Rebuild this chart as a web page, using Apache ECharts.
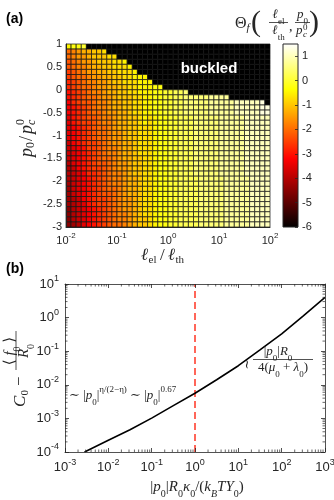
<!DOCTYPE html>
<html>
<head>
<meta charset="utf-8">
<script src="https://cdn.jsdelivr.net/npm/echarts@6.0.0/dist/echarts.min.js"></script>
<style>
  html, body { margin: 0; padding: 0; background: #fff; }
  #chart { width: 334px; height: 500px; }
</style>
</head>
<body>
<div id="chart"></div>
<script>
// ---- panel (a): Theta_f(l_el/l_th, p0/pc0) ----
// one string per row of cells, top row first (p0/pc0 = 1), bottom row last (p0/pc0 = -3)
// one character per cell, small l_el/l_th first: theta = -6 + 0.25 * parseInt(ch, 36)
// cells missing at the end of a row lie in the buckled region
const thetaRows = [
  'mnno',
  'ghijjkkl',
  'ghiijkkkll',
  'fghiijkkkllm',
  'fghhijjkklllm',
  'efghiijjkklllm',
  'efgghiijjkkllmmm',
  'defghhiijkklllmmm',
  'defgghiijjkkllmmmnn',
  'cdefghhijjkkllmmmnnooppq',
  'cdefgghiijkkkllmmnnooppqqqqqrrrr',
  'bdeffghhijjkkllmmnnooppqqqqqrrrrrssssst',
  'bcdefghhijjkkllmmnnooppqqqqqrrrrrssssstt',
  'bcdefgghiijjkllmmnnooppqqqqqrrrrrssssstt',
  'acdeffghhijjkklmlmnnoopppqqqqqrrrrrsssss',
  'acdeefghhijjkklmlmnnoopppqqqqqrrrrrsssss',
  'abcdefgghijjkklllmnnoopppqqqqqrrrrrsssss',
  'abcdefgghiijkklllmnnoopppqqqqqrrrrrsssss',
  'abcdefgghiijkklllmnnoopppqqqqqrrrrrsssss',
  '9bcdeefghiijjklllmnnoopppqqqqqrrrrrsssss',
  '9abceefghhijjklllmnnoopppqqqqqrrrrrsssss',
  '9abcdefghhijjklllmnnoopppqqqqqrrrrrsssss',
  '9abcdefgghijjkkllmnnoopppqqqqqrrrrrsssss',
  '8abcdeffghiijkkllmnnoopppqqqqqrrrrrsssss',
  '89bcdeefghiijkkllmnnoopppqqqqqrrrrrsssss',
  '89abddefghhijkkllmnnoopppqqqqqrrrrrsssss',
  '89abcdefghhijjkllmnnooppppqqqqqrrrrrssss',
  '79abcdefghhijjkllmnnooppppqqqqqrrrrrssss',
  '79abcdefgghijjkllmnnooppppqqqqqrrrrrssss',
  '79abcdeffghijjkllmnnooppppqqqqqrrrrrssss',
  '789bcdeefghiijkllmnnooppppqqqqqrrrrrssss',
  '789acdeefghiijkllmnnooppppqqqqqrrrrrssss',
  '689abcdefghiijkllmnnooppppqqqqqrrrrrssss',
  '689abcdefghhijkllmnnooppppqqqqqrrrrrssss',
  '689abcdefghhijkklmnnooppppqqqqqrrrrrssss',
  '678abcdefgghijkklmnnooppppqqqqqrrrrrssss'
];
const nCols = 40;
const xDecades = [-2, 2];      // l_el/l_th from 10^-2 to 10^2
const yRange = [-3, 1];        // p0/pc0
const thetaRange = [-6, 1.5];  // colour bar
const hotColors = ['#000000', '#550000', '#aa0000', '#ff0000', '#ff5500',
                   '#ffaa00', '#ffff00', '#ffff80', '#ffffff'];

// ---- panel (b): C0 - <f0>/R0 against |p0| R0 kappa0 / (kB T Y0) ----
const loadX = [0.00282, 0.01, 0.0316, 0.1, 0.316, 1, 3.16, 10, 31.6, 100, 316, 1000];
const gapY = [1.0e-4, 2.24e-4, 4.57e-4, 1.02e-3, 2.4e-3, 5.6e-3, 1.41e-2, 3.7e-2, 0.11, 0.33, 1.12, 3.98];
const crossoverX = 1;
const bXRange = [1e-3, 1e3];
const bYRange = [1e-4, 1e1];

const ink = '#262626';
const serif = "'Liberation Serif', 'DejaVu Serif', serif";
const sans = "'Liberation Sans', Arial, sans-serif";

// cells [x0, x1, y0, y1, theta]
const nRows = thetaRows.length;
const dx = (xDecades[1] - xDecades[0]) / nCols;
const dy = (yRange[1] - yRange[0]) / nRows;
const cells = [];
thetaRows.forEach(function (row, r) {
  const yTop = yRange[1] - r * dy;
  for (let c = 0; c < nCols; c++) {
    const ch = row.charAt(c);
    const theta = ch ? -6 + 0.25 * parseInt(ch, 36) : thetaRange[0];
    cells.push([Math.pow(10, xDecades[0] + c * dx), Math.pow(10, xDecades[0] + (c + 1) * dx),
                yTop - dy, yTop, theta]);
  }
});

// minor ticks of the log axes in (b)
const minorX = [], minorY = [];
for (let k = -3; k < 3; k++) for (let m = 2; m < 10; m++) minorX.push([m * Math.pow(10, k), bYRange[0]]);
for (let k = -4; k < 1; k++) for (let m = 2; m < 10; m++) minorY.push([bXRange[0], m * Math.pow(10, k)]);

function expLabel(v) {
  return '{b|10}{e|' + Math.round(Math.log10(v)) + '}';
}
function expRich(size, sup) {
  return {
    b: { fontSize: size, lineHeight: size + 6, color: ink, fontFamily: sans },
    e: { fontSize: sup, lineHeight: sup + 1, verticalAlign: 'top', color: ink, fontFamily: sans }
  };
}

function t(x, y, text, size, extra) {
  return { type: 'text', x: x, y: y, z: 100,
    style: Object.assign({ text: text, fontSize: size, fontFamily: serif, fill: ink,
      align: 'left', verticalAlign: 'middle' }, extra || {}) };
}
function bar(x1, x2, y) {
  return { type: 'line', z: 100, shape: { x1: x1, y1: y, x2: x2, y2: y },
    style: { stroke: ink, lineWidth: 0.8 } };
}
function mathRich(size) {
  return {
    m: { fontSize: size, lineHeight: size + 9, fontFamily: serif },
    i: { fontSize: size, lineHeight: size + 9, fontFamily: serif, fontStyle: 'italic' },
    s: { fontSize: Math.round(size * 0.68), lineHeight: Math.round(size * 0.68) + 6, verticalAlign: 'bottom', fontFamily: serif },
    si: { fontSize: Math.round(size * 0.68), lineHeight: Math.round(size * 0.68) + 6, verticalAlign: 'bottom', fontFamily: serif, fontStyle: 'italic' },
    u: { fontSize: Math.round(size * 0.68), lineHeight: Math.round(size * 0.68) + 1, verticalAlign: 'top', fontFamily: serif }
  };
}
function rt(x, y, text, size, extra) {
  return t(x, y, text, size, Object.assign({ rich: mathRich(size), align: 'center' }, extra || {}));
}

const chart = echarts.init(document.getElementById('chart'));

chart.setOption({
  animation: false,
  textStyle: { fontFamily: sans },
  grid: [
    { left: 66, top: 44, width: 204, height: 183, outerBoundsMode: 'none' },
    { left: 283, top: 44, width: 15, height: 183, outerBoundsMode: 'none' },
    { left: 65, top: 284, width: 260, height: 168, outerBoundsMode: 'none' }
  ],
  xAxis: [
    { gridIndex: 0, type: 'log', logBase: 10, min: 0.01, max: 100, splitNumber: 4, z: 5,
      axisLine: { onZero: false, lineStyle: { color: ink, width: 1 } }, axisTick: { show: false },
      splitLine: { show: false },
      axisLabel: { margin: 5, formatter: expLabel, rich: expRich(11, 8) } },
    { gridIndex: 1, type: 'value', min: 0, max: 1, show: false },
    { gridIndex: 2, type: 'log', logBase: 10, min: bXRange[0], max: bXRange[1], splitNumber: 6, z: 5,
      axisLine: { onZero: false, lineStyle: { color: ink, width: 0.8 } },
      axisTick: { inside: true, length: 4, lineStyle: { color: ink, width: 0.8 } },
      splitLine: { show: false },
      axisLabel: { margin: 6, formatter: expLabel, rich: expRich(13, 9) } },
    { gridIndex: 2, type: 'log', logBase: 10, position: 'top', min: bXRange[0], max: bXRange[1], splitNumber: 6, z: 5,
      axisLine: { onZero: false, lineStyle: { color: ink, width: 0.8 } },
      axisTick: { inside: true, length: 4, lineStyle: { color: ink, width: 0.8 } },
      splitLine: { show: false }, axisLabel: { show: false } }
  ],
  yAxis: [
    { gridIndex: 0, type: 'value', min: yRange[0], max: yRange[1], interval: 0.5, z: 5,
      axisLine: { show: true, onZero: false, lineStyle: { color: ink, width: 1 } }, axisTick: { show: false },
      splitLine: { show: false },
      axisLabel: { margin: 4, fontSize: 11, color: ink } },
    { gridIndex: 1, type: 'value', position: 'right', min: thetaRange[0], max: thetaRange[1], interval: 1, z: 5,
      axisLine: { show: false, onZero: false },
      axisTick: { inside: true, length: 3, lineStyle: { color: ink, width: 0.8 } },
      splitLine: { show: false },
      axisLabel: { margin: 4, fontSize: 11, color: ink, showMaxLabel: false } },
    { gridIndex: 2, type: 'log', logBase: 10, min: bYRange[0], max: bYRange[1], splitNumber: 5, z: 5,
      axisLine: { show: true, onZero: false, lineStyle: { color: ink, width: 0.8 } },
      axisTick: { show: true, inside: true, length: 4, lineStyle: { color: ink, width: 0.8 } },
      splitLine: { show: false },
      axisLabel: { margin: 6, formatter: expLabel, rich: expRich(13, 9) } },
    { gridIndex: 2, type: 'log', logBase: 10, position: 'right', min: bYRange[0], max: bYRange[1], splitNumber: 5, z: 5,
      axisLine: { show: true, onZero: false, lineStyle: { color: ink, width: 0.8 } },
      axisTick: { show: true, inside: true, length: 4, lineStyle: { color: ink, width: 0.8 } },
      splitLine: { show: false }, axisLabel: { show: false } }
  ],
  visualMap: {
    show: false, type: 'continuous', seriesIndex: 0, dimension: 4,
    min: thetaRange[0], max: thetaRange[1], inRange: { color: hotColors }
  },
  series: [
    {
      type: 'custom', xAxisIndex: 0, yAxisIndex: 0,
      dimensions: ['x0', 'x1', 'y0', 'y1', 'theta'],
      encode: { x: [0, 1], y: [2, 3] },
      data: cells,
      renderItem: function (params, api) {
        const a = api.coord([api.value(0), api.value(3)]);
        const b = api.coord([api.value(1), api.value(2)]);
        return { type: 'rect',
          shape: { x: a[0], y: a[1], width: b[0] - a[0], height: b[1] - a[1] },
          style: { fill: api.visual('color'), stroke: 'rgba(20,20,20,0.8)', lineWidth: 0.9 } };
      }
    },
    {
      type: 'custom', xAxisIndex: 1, yAxisIndex: 1,
      encode: { x: [0, 1], y: [2, 3] },
      data: [[0, 1, thetaRange[0], thetaRange[1]]],
      renderItem: function (params, api) {
        const a = api.coord([api.value(0), api.value(3)]);
        const b = api.coord([api.value(1), api.value(2)]);
        const stops = hotColors.map(function (c, i) { return { offset: i / (hotColors.length - 1), color: c }; });
        return { type: 'rect',
          shape: { x: a[0], y: a[1], width: b[0] - a[0], height: b[1] - a[1] },
          style: { fill: new echarts.graphic.LinearGradient(0, 1, 0, 0, stops), stroke: ink, lineWidth: 1 } };
      }
    },
    {
      type: 'line', xAxisIndex: 2, yAxisIndex: 2, symbol: 'none', z: 4,
      data: loadX.map(function (x, i) { return [x, gapY[i]]; }),
      lineStyle: { color: '#000', width: 1.6 }
    },
    {
      type: 'line', xAxisIndex: 2, yAxisIndex: 2, symbol: 'none', z: 3,
      data: [[crossoverX, bYRange[0]], [crossoverX, bYRange[1]]],
      lineStyle: { color: '#ff3322', width: 1.5, type: [7, 4] }
    },
    {
      type: 'custom', xAxisIndex: 2, yAxisIndex: 2, data: minorX, z: 5,
      renderItem: function (params, api) {
        const lo = api.coord([api.value(0), bYRange[0]]);
        const hi = api.coord([api.value(0), bYRange[1]]);
        const s = { stroke: ink, lineWidth: 0.7 };
        return { type: 'group', children: [
          { type: 'line', shape: { x1: lo[0], y1: lo[1], x2: lo[0], y2: lo[1] - 2.5 }, style: s },
          { type: 'line', shape: { x1: hi[0], y1: hi[1], x2: hi[0], y2: hi[1] + 2.5 }, style: s }
        ] };
      }
    },
    {
      type: 'custom', xAxisIndex: 2, yAxisIndex: 2, data: minorY, z: 5,
      renderItem: function (params, api) {
        const lo = api.coord([bXRange[0], api.value(1)]);
        const hi = api.coord([bXRange[1], api.value(1)]);
        const s = { stroke: ink, lineWidth: 0.7 };
        return { type: 'group', children: [
          { type: 'line', shape: { x1: lo[0], y1: lo[1], x2: lo[0] + 2.5, y2: lo[1] }, style: s },
          { type: 'line', shape: { x1: hi[0], y1: hi[1], x2: hi[0] - 2.5, y2: hi[1] }, style: s }
        ] };
      }
    }
  ],
  graphic: [
    t(6, 19, '(a)', 14, { fontFamily: sans, fontWeight: 'bold', fill: '#000' }),
    t(6, 269, '(b)', 14, { fontFamily: sans, fontWeight: 'bold', fill: '#000' }),
    t(209, 69, 'buckled', 15, { fontFamily: sans, fontWeight: 'bold', fill: '#fff', align: 'center' }),

    // colour bar title: Theta_f(l_el/l_th, p0/pc0)
    t(235, 24, 'Θ', 16),
    t(246.5, 28.5, 'f', 11, { fontStyle: 'italic' }),
    t(251, 23, '(', 30),
    rt(278.5, 15, '{i|ℓ}{s|el}', 13),
    bar(269, 288, 22.5),
    rt(278.5, 31, '{i|ℓ}{s|th}', 13),
    t(289, 27, ',', 14),
    rt(302.5, 15, '{i|p}{s|0}', 13),
    bar(295, 310, 22.5),
    t(296, 31, 'p', 13, { fontStyle: 'italic' }),
    t(303, 27.5, '0', 9),
    t(303, 34.5, 'c', 9, { fontStyle: 'italic' }),
    t(309, 23, ')', 30),

    // y label of (a): p0 / pc0
    { type: 'group', x: 27, y: 157, rotation: Math.PI / 2, children: [
      t(0, 0, 'p', 18, { fontStyle: 'italic' }),
      t(9, 4, '0', 12),
      t(16, 0, '/', 18),
      t(23, 0, 'p', 18, { fontStyle: 'italic' }),
      t(32, -6, '0', 12),
      t(32, 5, 'c', 12, { fontStyle: 'italic' })
    ] },
    // x label of (a): l_el / l_th
    t(141, 256, 'ℓ', 17, { fontStyle: 'italic' }),
    t(148.5, 260, 'el', 11),
    t(160, 256, '/', 17),
    t(168, 256, 'ℓ', 17, { fontStyle: 'italic' }),
    t(175.5, 260, 'th', 11),

    // y label of (b): C0 - <f0>/R0
    { type: 'group', x: 21, y: 407, rotation: Math.PI / 2, children: [
      t(0, 0, 'C', 17, { fontStyle: 'italic' }),
      t(11.5, 4, '0', 11),
      t(21, -1, '−', 17),
      rt(56, -11, '{m|⟨ }{i|f}{s|0}{m| ⟩}', 15),
      bar(37, 76, -5),
      rt(56, 3, '{i|R}{s|0}', 15)
    ] },
    // x label of (b)
    rt(197, 487, '{m||}{i|p}{s|0}{m||}{i|R}{s|0}{i|κ}{s|0}{m|/(}{i|k}{si|B}{i|TY}{s|0}{m|)}', 15),

    // annotations of (b)
    t(69, 396, '{m|∼ |}{i|p}{s|0}{m||}{u|η/(2−η)}{m| ∼ |}{i|p}{s|0}{m||}{u|0.67}', 13,
      { rich: mathRich(13) }),
    { type: 'text', x: 248, y: 364, rotation: Math.PI / 2, z: 100,
      style: { text: '∼', fontSize: 13, fontFamily: serif, fill: ink, align: 'center', verticalAlign: 'middle' } },
    rt(278, 352, '{m||}{i|p}{s|0}{m||}{i|R}{s|0}', 13),
    bar(253, 313, 359.5),
    rt(283, 368, '{m|4(}{i|μ}{s|0}{m| + }{i|λ}{s|0}{m|)}', 13)
  ]
});
</script>
</body>
</html>
